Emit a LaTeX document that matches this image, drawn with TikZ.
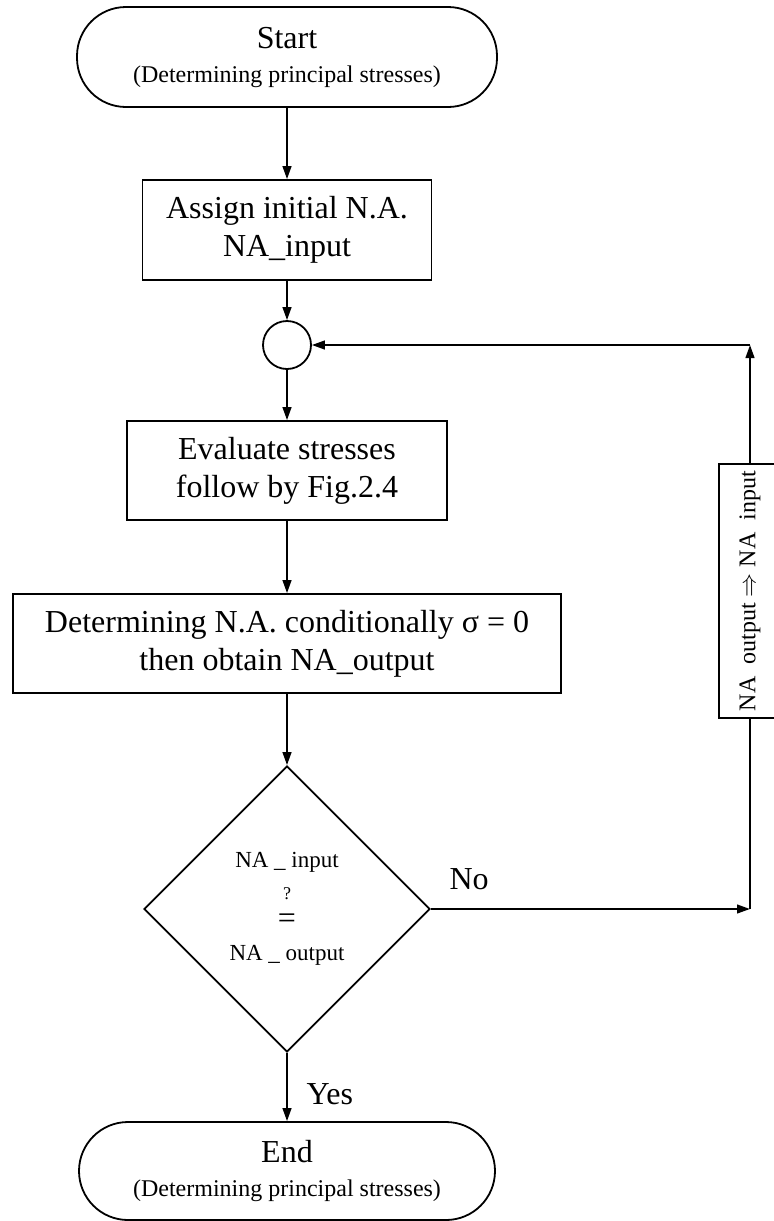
\documentclass[tikz,border=0pt]{standalone}
\usepackage{fontspec}
\setmainfont{Liberation Serif}
\usetikzlibrary{shapes.geometric,arrows.meta}

\tikzset{
  terminal/.style={draw, line width=0.9pt, rounded corners=24.5pt, minimum height=50pt, align=center, font=\fontsize{16}{19}\selectfont},
  process/.style={draw, line width=0.9pt, minimum height=50pt, align=center, font=\fontsize{16}{19}\selectfont},
  joint/.style={draw, circle, line width=0.9pt, minimum size=24pt, inner sep=0pt},
  decision/.style={draw, diamond, line width=0.9pt, minimum width=143pt, minimum height=143pt, inner sep=0pt, align=center, font=\fontsize{11.5}{14}\selectfont},
  flow/.style={-{Triangle[length=6.5pt,width=4.4pt]}, line width=0.9pt},
  tag/.style={font=\fontsize{16}{19}\selectfont}
}

\begin{document}
\begin{tikzpicture}[x=0.5pt,y=-0.5pt]

\useasboundingbox (0,0) rectangle (774,1221);

\node[terminal, minimum width=210pt] (start) at (287,57) {Start\\[-2pt]{\fontsize{12}{14}\selectfont (Determining principal stresses)}};
\node[process, minimum width=144.5pt] (assign) at (287,230) {Assign initial N.A.\\NA\_input};
\node[joint] (joint) at (287,345) {};
\node[process, minimum width=160pt, minimum height=49.5pt] (evaluate) at (287,470.5) {Evaluate stresses\\follow by Fig.2.4};
\node[process, minimum width=274pt, minimum height=49.5pt] (determine) at (287,643.5) {Determining N.A. conditionally σ = 0\\then obtain NA\_output};
\node[decision] (check) at (287,909) {NA \_ input\\[2pt]{\fontsize{9}{10}\selectfont ?}\\[0.5pt]{\fontsize{16}{14}\selectfont =}\\[2pt]NA \_ output};
\node[terminal, minimum width=208pt, minimum height=49pt] (finish) at (287,1171) {End\\[-2pt]{\fontsize{12}{14}\selectfont (Determining principal stresses)}};

% update box, drawn turned on its side
\node[process, rotate=90, minimum width=124pt, minimum height=31pt, font=\fontsize{12}{14}\selectfont] (update) at (750,591) {NA\ \ output $\Rightarrow$ NA\ \ input};

\draw[flow] (start) -- (assign);
\draw[flow] (assign) -- (joint);
\draw[flow] (joint) -- (evaluate);
\draw[flow] (evaluate) -- (determine);
\draw[flow] (determine) -- (check);
\draw[flow] (check) -- node[tag, pos=0.6, right=6pt] {Yes} (finish);

% loop back
\coordinate (meet) at (update.west |- check.east);
\coordinate (bend) at (update.east |- joint.east);
\draw[flow] (check.east) -- node[tag, pos=0.12, above=6pt] {No} (meet);
\draw[line width=0.9pt] (update.west) -- (meet);
\draw[flow] (update.east) -- (bend);
\draw[flow] (bend) -- (joint);

\end{tikzpicture}
\end{document}
